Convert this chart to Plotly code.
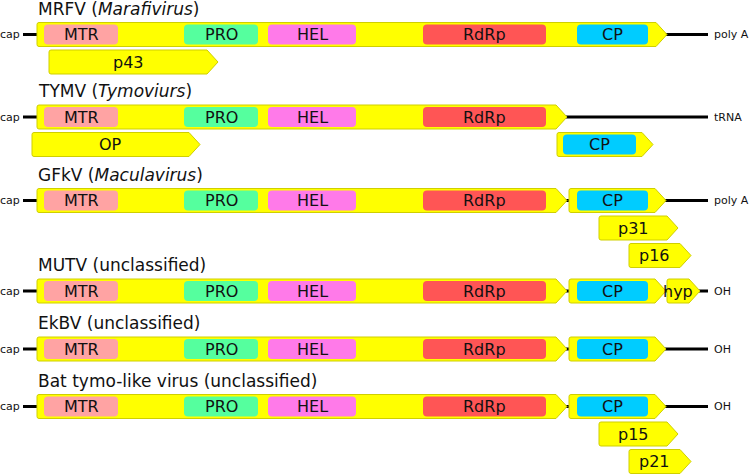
import plotly.graph_objects as go

# ---- data (positions on a genome map scale, 0..749) ----
titles = ["MRFV (<i>Marafivirus</i>)", "TYMV (<i>Tymoviurs</i>)", "GFkV (<i>Maculavirus</i>)",
          "MUTV (unclassified)", "EkBV (unclassified)", "Bat tymo-like virus (unclassified)"]
row_center = [34.5, 117, 200.5, 291, 349, 406.5]
end_label = ["poly A", "tRNA", "poly A", "OH", "OH", "OH"]
genome_start = [23, 23, 23, 23, 23, 23]
genome_end = [708, 708, 708, 708, 708, 708]

# ORFs: row, lane, start, end, label
orf_row = [0, 0, 1, 1, 1, 2, 2, 2, 2, 3, 3, 3, 4, 4, 5, 5, 5, 5]
orf_lane = [0, 1, 0, 1, 1, 0, 0, 1, 2, 0, 0, 0, 0, 0, 0, 0, 1, 2]
orf_start = [37, 49, 37, 32, 557, 37, 569, 599, 629, 37, 569, 667, 37, 569, 37, 569, 599, 629]
orf_end = [667, 218, 567, 200, 653, 567, 666, 678, 691, 567, 666, 700, 567, 666, 567, 666, 678, 691]
orf_label = ["", "p43", "", "OP", "", "", "", "p31", "p16", "", "", "hyp", "", "", "", "", "p15", "p21"]

# Domains: row, lane, start, end, name
dom_names = ["MTR", "PRO", "HEL", "RdRp", "CP"]
dom_colors = {"MTR": "#FFA3A3", "PRO": "#55FF9E", "HEL": "#FF7AE9", "RdRp": "#FF5555", "CP": "#00CCFF"}
dom_start = [44, 184, 268, 423, 577]
dom_end = [118, 258, 356, 546, 648]
tymv_cp_start, tymv_cp_end = 563, 636

W, H = 749, 474
ORF_H = 24
DOM_H = 20
LANE = 27.5
HEAD = 11
YELLOW = "#FFFF00"
EDGE = "#CFCF00"
FONT = "DejaVu Sans"
TXT = "#111111"

fig = go.Figure()
shapes = []
ann = []

def rrect(x0, y0, x1, y1, r):
    return (f"M {x0+r},{y0} L {x1-r},{y0} Q {x1},{y0} {x1},{y0+r} L {x1},{y1-r} "
            f"Q {x1},{y1} {x1-r},{y1} L {x0+r},{y1} Q {x0},{y1} {x0},{y1-r} "
            f"L {x0},{y0+r} Q {x0},{y0} {x0+r},{y0} Z")

def arrow(x0, x1, yc):
    t, b = yc - ORF_H / 2, yc + ORF_H / 2
    r = 2
    xa = x1 - HEAD
    return (f"M {x0+r},{t} L {xa},{t} L {x1},{yc} L {xa},{b} L {x0+r},{b} "
            f"Q {x0},{b} {x0},{b-r} L {x0},{t+r} Q {x0},{t} {x0+r},{t} Z")

for i, yc in enumerate(row_center):
    shapes.append(dict(type="line", x0=genome_start[i], x1=genome_end[i], y0=yc, y1=yc,
                       line=dict(color="black", width=3), layer="above"))
    ann.append(dict(x=genome_start[i] - 1, y=yc, text="cap", xanchor="right", yanchor="middle",
                    showarrow=False, font=dict(family=FONT, size=11, color=TXT)))
    ann.append(dict(x=genome_end[i] + 4, y=yc, text=end_label[i], xanchor="left", yanchor="middle",
                    showarrow=False, font=dict(family=FONT, size=11, color=TXT)))
    ann.append(dict(x=36, y=yc - ORF_H / 2 - 14, text=titles[i], xanchor="left", yanchor="middle",
                    showarrow=False, font=dict(family=FONT, size=17, color=TXT)))

for k in range(len(orf_row)):
    yc = row_center[orf_row[k]] + orf_lane[k] * LANE
    shapes.append(dict(type="path", path=arrow(orf_start[k], orf_end[k], yc),
                       fillcolor=YELLOW, line=dict(color=EDGE, width=1), layer="above"))
    if orf_label[k]:
        ann.append(dict(x=(orf_start[k] + orf_end[k] - HEAD) / 2, y=yc, text=orf_label[k],
                        xanchor="center", yanchor="middle", showarrow=False,
                        font=dict(family=FONT, size=16, color=TXT)))

for i, yc in enumerate(row_center):
    for j, name in enumerate(dom_names):
        x0, x1, y = dom_start[j], dom_end[j], yc
        if name == "CP" and i == 1:
            x0, x1, y = tymv_cp_start, tymv_cp_end, yc + LANE
        shapes.append(dict(type="path", path=rrect(x0, y - DOM_H / 2, x1, y + DOM_H / 2, 4),
                           fillcolor=dom_colors[name], line=dict(width=0), layer="above"))
        ann.append(dict(x=(x0 + x1) / 2, y=y, text=name, xanchor="center", yanchor="middle",
                        showarrow=False, font=dict(family=FONT, size=16, color=TXT)))

fig.update_layout(
    width=W, height=H, margin=dict(l=0, r=0, t=0, b=0),
    plot_bgcolor="white", paper_bgcolor="white",
    xaxis=dict(range=[0, W], visible=False, fixedrange=True),
    yaxis=dict(range=[H, 0], visible=False, fixedrange=True),
    shapes=shapes, annotations=ann, showlegend=False,
)
fig.write_html("out.html", config={"displayModeBar": False},
               post_script="document.body.style.margin='0px';document.body.style.overflow='hidden';")
